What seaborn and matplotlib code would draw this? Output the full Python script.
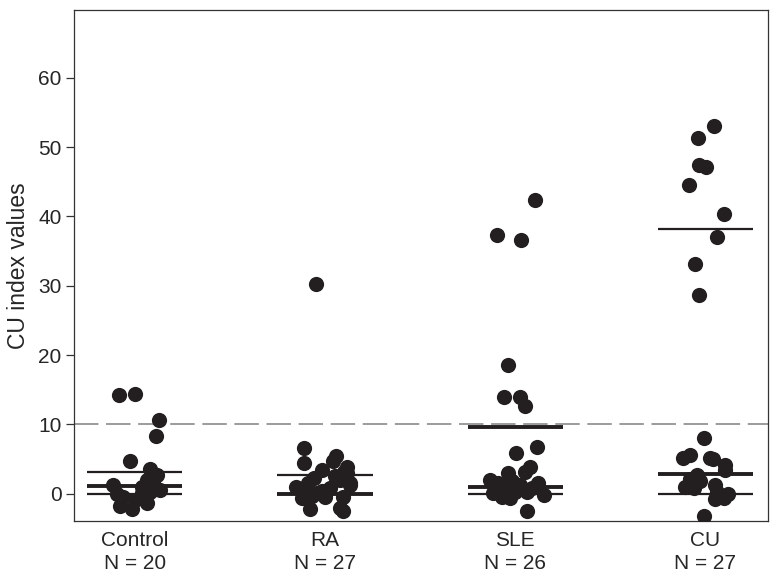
import numpy as np
import pandas as pd
import matplotlib
matplotlib.use("Agg")
import matplotlib.pyplot as plt
import seaborn as sns

groups = ["Control", "RA", "SLE", "CU"]
n_labels = ["N = 20", "N = 27", "N = 26", "N = 27"]

# values
control_vals = [14.2, 14.4, 10.7, 8.3, 4.8, 3.6, 2.7, 2.0, 1.0, 1.2, 0.6, -0.1, 0.1,
                -0.9, -1.3, -1.7, -2.2, 0.3, 1.8, -0.5]
control_jit = [-0.084, 0.0, 0.126, 0.11, -0.026, 0.08, 0.115, 0.063, 0.04, -0.116, 0.13,
               -0.095, 0.035, 0.0, 0.063, -0.08, -0.016, 0.08, 0.095, -0.063]

ra_vals = [30.3, 6.6, 4.4, 5.4, 4.7, 3.5, 3.0, 1.6, 1.6, 2.3, 0.6, 0.1, -0.6, -0.4, -0.4,
           0.9, 2.0, 3.9, -2.0, -2.5, 1.0, 2.5, -0.3, 1.2, 0.4, 3.2, -2.2]
ra_jit = [-0.047, -0.11, -0.11, 0.058, 0.042, -0.018, 0.114, 0.13, -0.09, -0.06, -0.1,
          -0.044, -0.12, 0.0, 0.095, 0.026, 0.08, 0.114, 0.08, 0.095, -0.15, 0.05, -0.07,
          0.13, -0.015, 0.1, -0.08]

sle_vals = [42.4, 37.3, 36.6, 18.6, 14.0, 14.0, 12.6, 6.8, 5.9, 3.9, 3.2, 3.0, 1.5, 1.5,
            1.3, 0.1, -0.4, -0.6, 0.3, 0.3, -2.5, 1.0, 2.0, 0.8, -0.2, 1.8]
sle_jit = [0.105, -0.095, 0.03, -0.04, -0.06, 0.026, 0.053, 0.114, 0.005, 0.08, 0.053,
           -0.037, -0.09, 0.12, 0.026, -0.116, -0.07, -0.026, 0.0, 0.06, 0.063, -0.05,
           -0.13, 0.09, 0.15, -0.016]

cu_vals = [53.1, 51.3, 47.4, 47.2, 44.5, 40.3, 37.1, 33.1, 28.7, 8.0, 5.1, 5.6, 5.1, 5.0,
           4.2, 3.5, 2.7, 1.8, 1.0, 0.8, 1.3, 0.3, -0.8, -0.6, -0.1, -3.2, 2.2]
cu_jit = [0.044, -0.04, -0.035, 0.005, -0.084, 0.096, 0.06, -0.056, -0.035, -0.009, -0.117,
          -0.079, 0.026, 0.042, 0.105, 0.105, -0.044, -0.026, -0.105, -0.06, 0.053, 0.06,
          0.053, 0.096, 0.12, -0.009, -0.08]

# summary lines per group: upper, middle (thick), lower
upper_line = [3.2, 2.7, 9.6, 38.2]
middle_line = [1.1, 0.0, 1.0, 2.8]
lower_line = [0.0, None, 0.0, 0.0]
upper_thick = [False, False, True, False]
cutoff = 10

all_vals = [control_vals, ra_vals, sle_vals, cu_vals]
all_jit = [control_jit, ra_jit, sle_jit, cu_jit]
rows = []
for i, g in enumerate(groups):
    for v, j in zip(all_vals[i], all_jit[i]):
        rows.append({"group": g, "value": v, "x": i + j})
df = pd.DataFrame(rows)

sns.set_style("white")
plt.rcParams["font.family"] = ["Liberation Sans", "DejaVu Sans"]

fig = plt.figure(figsize=(7.79, 5.80), dpi=100)
ax = fig.add_axes([0.095, 0.102, 0.891, 0.881])

dark = "#231f20"
ax.axhline(cutoff, color="#808080", lw=1.1, dashes=(16, 5), zorder=1)

sns.scatterplot(data=df, x="x", y="value", color=dark, s=120, edgecolor=dark,
                linewidth=0, ax=ax, zorder=3, legend=False)

hw = 0.25
for i in range(len(groups)):
    ax.hlines(upper_line[i], i - hw, i + hw, color=dark,
              lw=2.8 if upper_thick[i] else 1.6, zorder=2)
    ax.hlines(middle_line[i], i - hw, i + hw, color=dark, lw=2.8, zorder=2)
    if lower_line[i] is not None:
        ax.hlines(lower_line[i], i - hw, i + hw, color=dark, lw=1.6, zorder=2)

ax.set_xlim(-0.32, 3.33)
ax.set_ylim(-3.9, 69.8)
ax.set_yticks(range(0, 61, 10))
ax.set_xticks(range(len(groups)))
ax.set_xticklabels([f"{g}\n{n}" for g, n in zip(groups, n_labels)],
                   fontsize=15, linespacing=1.3)
ax.tick_params(axis="y", labelsize=15, length=6, width=0.9, color="#333333",
               direction="out", left=True, pad=3)
ax.tick_params(axis="x", length=0, pad=7)
ax.set_xlabel("")
ax.set_ylabel("CU index values", fontsize=16.5, labelpad=6)
for sp in ax.spines.values():
    sp.set_color("#333333")
    sp.set_linewidth(0.9)

fig.savefig("out.png", dpi=100)
